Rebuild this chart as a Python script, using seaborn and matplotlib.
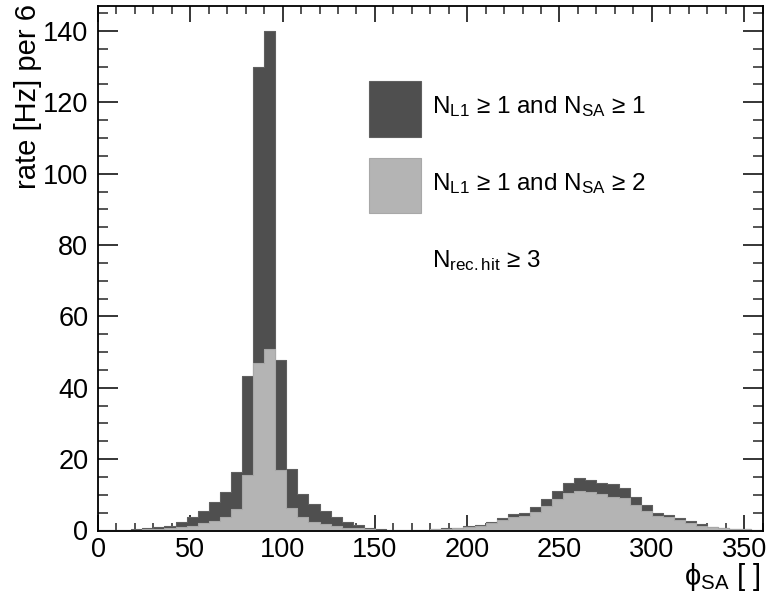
import numpy as np
import pandas as pd
import matplotlib
matplotlib.use("Agg")
import matplotlib.pyplot as plt
import seaborn as sns
from matplotlib.patches import Rectangle
from matplotlib.ticker import MultipleLocator

# ---- data (rate per 6-degree bin) ----
bin_width = 6
bin_low = list(range(0, 360, 6))
rate_sa1 = [0.1, 0.2, 0.2, 0.4, 0.6, 0.9, 1.4, 2.3, 3.7, 5.5,
            7.9, 10.7, 16.5, 43.3, 130.0, 140.0, 47.7, 17.2, 10.1, 7.4,
            5.5, 3.7, 2.4, 1.5, 0.8, 0.4, 0.2, 0.1, 0.05, 0.1,
            0.3, 0.6, 0.8, 1.2, 1.6, 2.4, 3.6, 4.6, 4.8, 6.5,
            8.8, 11.1, 13.4, 14.6, 14.2, 13.3, 13.0, 11.8, 9.3, 7.1,
            5.0, 4.3, 3.6, 2.6, 1.8, 1.0, 0.7, 0.4, 0.3, 0.2]
rate_sa2 = [0.05, 0.1, 0.1, 0.2, 0.3, 0.4, 0.6, 0.9, 1.4, 2.0,
            2.8, 3.8, 6.0, 15.6, 47.0, 51.0, 17.0, 6.2, 3.7, 2.4,
            1.8, 1.2, 0.8, 0.6, 0.3, 0.2, 0.1, 0.05, 0.05, 0.1,
            0.3, 0.5, 0.7, 1.0, 1.4, 2.0, 2.9, 3.9, 4.1, 5.2,
            6.9, 8.7, 10.4, 11.0, 10.7, 10.1, 9.5, 9.0, 7.1, 5.5,
            4.0, 3.9, 2.9, 2.0, 1.4, 0.9, 0.6, 0.3, 0.3, 0.2]
label_sa1 = "N$_{\\rm L1}$ \u2265 1 and N$_{\\rm SA}$ \u2265 1"
label_sa2 = "N$_{\\rm L1}$ \u2265 1 and N$_{\\rm SA}$ \u2265 2"
label_hit = "N$_{\\rm rec.hit}$ \u2265 3"
dark_col = "#4f4f4f"
light_col = "#b4b4b4"

df = pd.DataFrame({
    "phi": np.array(bin_low, dtype=float) + bin_width / 2,
    "sa1": rate_sa1,
    "sa2": rate_sa2,
})

sns.set_theme(style="white")
plt.rcParams["font.family"] = ["Liberation Sans", "DejaVu Sans"]
plt.rcParams["mathtext.fontset"] = "custom"
plt.rcParams["mathtext.rm"] = "Liberation Sans"
plt.rcParams["mathtext.it"] = "Liberation Sans:italic"
plt.rcParams["mathtext.bf"] = "Liberation Sans:bold"

W, H = 769, 603
fig = plt.figure(figsize=(W / 100, H / 100), dpi=100)
ax = fig.add_axes([98 / W, 1 - 530.5 / H, (762.5 - 98) / W, (530.5 - 6) / H])

sns.histplot(data=df, x="phi", weights="sa1", binwidth=bin_width,
             binrange=(0, 360), element="step",
             fill=True, color=dark_col, alpha=1, linewidth=0.8,
             edgecolor="#606060", ax=ax)
sns.histplot(data=df, x="phi", weights="sa2", binwidth=bin_width,
             binrange=(0, 360), element="step",
             fill=True, color=light_col, alpha=1, linewidth=0.8,
             edgecolor="#a8a8a8", ax=ax)

ax.set_xlim(0, 360)
ax.set_ylim(0, 147)

for s in ax.spines.values():
    s.set_visible(True)
    s.set_color("black")
    s.set_linewidth(1.3)

ax.xaxis.set_major_locator(MultipleLocator(50))
ax.xaxis.set_minor_locator(MultipleLocator(10))
ax.yaxis.set_major_locator(MultipleLocator(20))
ax.yaxis.set_minor_locator(MultipleLocator(5))
ax.tick_params(axis="x", which="major", direction="in", length=11.5, width=1.1,
               top=True, bottom=True, labelsize=19.5, pad=5, colors="black")
ax.tick_params(axis="x", which="minor", direction="in", length=5.8, width=1.1,
               top=True, bottom=True)
ax.tick_params(axis="y", which="major", direction="in", length=14.4, width=1.1,
               left=True, right=True, labelsize=19.5, pad=7, colors="black")
ax.tick_params(axis="y", which="minor", direction="in", length=7.2, width=1.1,
               left=True, right=True)

ax.set_ylabel("rate [Hz] per 6", fontsize=21, color="black")
ax.yaxis.set_label_coords(-0.106, 1.004)
ax.yaxis.label.set_ha("right")
ax.yaxis.label.set_va("center")

ax.set_xlabel("$\\mathrm{\\phi}_{\\rm SA}$ [ ]", fontsize=21, color="black")
ax.xaxis.set_label_coords(0.997, -0.088)
ax.xaxis.label.set_ha("right")
ax.xaxis.label.set_va("center")


# ---- legend (ROOT-style boxes) ----
def fx(px):
    return px / W


def fy(py):
    return 1 - py / H


for top, col, edge in [(81.5, dark_col, "#606060"), (158.0, light_col, "#a8a8a8")]:
    fig.add_artist(Rectangle((fx(368.5), fy(top + 55)), 53 / W, 55 / H,
                             transform=fig.transFigure, facecolor=col,
                             edgecolor=edge, linewidth=0.8))
leg_fs = 17.5
for base, txt in [(113.5, label_sa1), (190.5, label_sa2), (267.0, label_hit)]:
    fig.text(fx(432), fy(base), txt, fontsize=leg_fs, color="black",
             ha="left", va="baseline")

fig.savefig("out.png", dpi=100, facecolor="white")
